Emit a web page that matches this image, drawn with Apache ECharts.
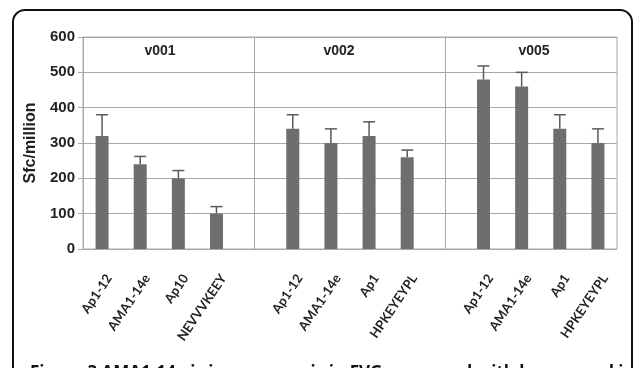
<!DOCTYPE html>
<html>
<head>
<meta charset="utf-8">
<script src="https://cdn.jsdelivr.net/npm/echarts@6/dist/echarts.min.js"></script>
<style>
html,body{margin:0;padding:0;background:#fff;}
#chart{width:634px;height:368px;}
</style>
</head>
<body>
<div id="chart"></div>
<script>
// Data
const groups = ['v001', 'v002', 'v005'];
const categories = ['Ap1-12','AMA1-14e','Ap10','NEVVVKEEY','','Ap1-12','AMA1-14e','Ap1','HPKEYEYPL','','Ap1-12','AMA1-14e','Ap1','HPKEYEYPL'];
const values = [320, 240, 200, 100, null, 340, 300, 320, 260, null, 480, 460, 340, 300];
const errorTops = [380, 262, 222, 120, null, 380, 340, 360, 280, null, 518, 500, 380, 340];
const yTicks = [0, 100, 200, 300, 400, 500, 600];
const caption = 'Figure 3 AMA1-14e is immunogenic in FVG compared with known and i';

const keys = categories.map((c, i) => 'k' + i);
const gapKeys = keys.filter((k, i) => categories[i] === '');

const chart = echarts.init(document.getElementById('chart'));
const errData = values.map((v, i) => v == null ? null : [keys[i], v, errorTops[i]]).filter(d => d);

chart.setOption({
  animation: false,
  grid: { left: 83, right: 17, top: 37, bottom: 119, show: true, borderColor: '#a8a8a8', borderWidth: 1 },
  xAxis: {
    type: 'category',
    data: keys,
    axisLine: { show: false },
    axisTick: { show: false },
    axisLabel: {
      interval: 0, rotate: 56, margin: 22,
      verticalAlign: 'top', padding: [2, 0, 0, 0],
      fontFamily: 'Lato', fontWeight: 'bold', fontSize: 13, color: '#222',
      formatter: (val, idx) => categories[idx]
    }
  },
  yAxis: {
    type: 'value', min: 0, max: 600, interval: 100,
    name: 'Sfc/million', nameLocation: 'middle', nameGap: 31,
    nameTextStyle: { fontFamily: 'Liberation Sans', fontWeight: 'bold', fontSize: 16, color: '#222' },
    axisLine: { show: true, lineStyle: { color: '#a8a8a8' } },
    axisTick: { show: true, length: 5, lineStyle: { color: '#a8a8a8' } },
    axisLabel: { margin: 8, fontFamily: 'Liberation Sans', fontWeight: 'bold', fontSize: 15, color: '#222',
      formatter: v => yTicks.includes(v) ? String(v) : '' },
    splitLine: { show: true, lineStyle: { color: '#a8a8a8', width: 1 } }
  },
  series: [
    {
      type: 'bar',
      data: values,
      barWidth: 13,
      itemStyle: { color: '#6e6e6e' },
      markLine: {
        silent: true, symbol: 'none', label: { show: false },
        lineStyle: { color: '#a8a8a8', type: 'solid', width: 1 },
        data: gapKeys.map(k => ({ xAxis: k }))
      }
    },
    {
      type: 'custom',
      data: errData,
      encode: { x: 0, y: [1, 2] },
      z: 3,
      renderItem: (params, api) => {
        const base = api.coord([api.value(0), api.value(1)]);
        const top = api.coord([api.value(0), api.value(2)]);
        const half = 6;
        const style = { stroke: '#5a5a5a', lineWidth: 1.5 };
        return {
          type: 'group',
          children: [
            { type: 'line', shape: { x1: base[0], y1: base[1], x2: top[0], y2: top[1] }, style },
            { type: 'line', shape: { x1: top[0] - half, y1: top[1], x2: top[0] + half, y2: top[1] }, style }
          ]
        };
      }
    }
  ],
  graphic: [
    { type: 'rect', shape: { x: 13, y: 10, width: 619, height: 400, r: 12 }, style: { fill: 'none', stroke: '#111', lineWidth: 2 }, z: 10 },
    { type: 'text', x: 160, y: 51, style: { text: groups[0], font: 'bold 14px "Liberation Sans"', fill: '#222', align: 'center', verticalAlign: 'middle' } },
    { type: 'text', x: 339, y: 51, style: { text: groups[1], font: 'bold 14px "Liberation Sans"', fill: '#222', align: 'center', verticalAlign: 'middle' } },
    { type: 'text', x: 534, y: 51, style: { text: groups[2], font: 'bold 14px "Liberation Sans"', fill: '#222', align: 'center', verticalAlign: 'middle' } },
    { type: 'text', x: 30, y: 365, style: { text: caption, font: 'bold 17px "Open Sans"', fill: '#111', align: 'left', verticalAlign: 'top' } }
  ]
});
</script>
</body>
</html>
